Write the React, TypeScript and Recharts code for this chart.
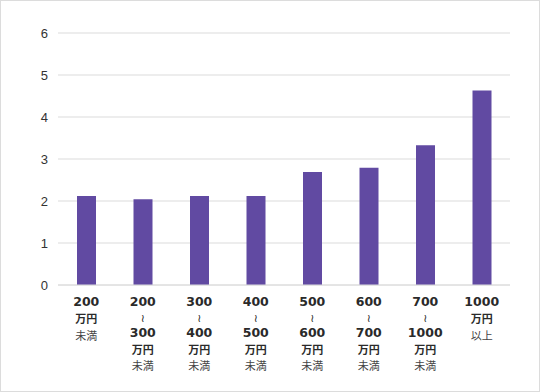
import { Bar, BarChart, CartesianGrid, XAxis, YAxis } from "recharts";

const categories = [
  ["200", "万円", "未満"],
  ["200", "~", "300", "万円", "未満"],
  ["300", "~", "400", "万円", "未満"],
  ["400", "~", "500", "万円", "未満"],
  ["500", "~", "600", "万円", "未満"],
  ["600", "~", "700", "万円", "未満"],
  ["700", "~", "1000", "万円", "未満"],
  ["1000", "万円", "以上"],
];
const values = [2.12, 2.04, 2.12, 2.12, 2.69, 2.79, 3.33, 4.63];
const yTicks = [0, 1, 2, 3, 4, 5, 6];

const data = categories.map((lines, i) => ({ name: lines.join("|"), value: values[i] }));

const plain = new Set(["未満", "以上"]);

function gap(prev: string, line: string) {
  if (line === "万円") return 17;
  if (line === "~") return 15.5;
  if (prev === "~") return 15;
  return 16.5;
}

function IncomeTick({ x, y, payload }: any) {
  const lines: string[] = String(payload.value).split("|");
  return (
    <text x={x} y={y} textAnchor="middle">
      {lines.map((line, i) => {
        const isNum = /^\d+$/.test(line);
        return (
          <tspan
            key={i}
            x={x}
            dy={i === 0 ? 13 : gap(lines[i - 1], line)}
            fontSize={isNum ? 12.5 : 11}
            fontWeight={plain.has(line) || line === "~" ? 400 : 700}
            fontFamily={isNum || line === "~" ? "'DejaVu Sans', sans-serif" : "'Noto Sans CJK JP', sans-serif"}
            fill={plain.has(line) ? "#444" : "#2a2a2a"}
          >
            {line === "~" ? "≀" : line}
          </tspan>
        );
      })}
    </text>
  );
}

export default function App() {
  return (
    <div
      style={{
        position: "absolute",
        left: 0,
        top: 0,
        width: 540,
        height: 392,
        border: "1px solid #dcdcdc",
        boxSizing: "border-box",
        background: "#fff",
      }}
    >
      <BarChart
        width={538}
        height={390}
        data={data}
        margin={{ top: 32, right: 29, left: 0, bottom: 0 }}
      >
        <CartesianGrid vertical={false} stroke="#dcdcdc" strokeWidth={1.2} />
        <XAxis
          dataKey="name"
          interval={0}
          height={106}
          axisLine={{ stroke: "#dcdcdc" }}
          tickLine={false}
          tick={<IncomeTick />}
        />
        <YAxis
          width={57}
          domain={[0, 6]}
          ticks={yTicks}
          axisLine={false}
          tickLine={false}
          tickMargin={4}
          tick={{ fill: "#333", fontSize: 13, fontFamily: "'Liberation Sans', Arial, sans-serif" }}
        />
        <Bar dataKey="value" fill="#614aa2" barSize={19} isAnimationActive={false} />
      </BarChart>
    </div>
  );
}
